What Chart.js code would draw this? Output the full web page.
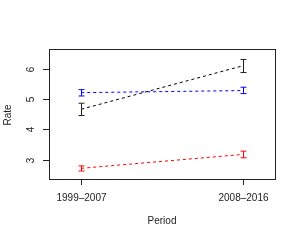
<!DOCTYPE html>
<html>
<head>
<meta charset="utf-8">
<script src="https://cdn.jsdelivr.net/npm/chart.js@4.4.0/dist/chart.umd.min.js"></script>
<style>
  html, body { margin: 0; padding: 0; background: #fff; }
  #wrap { width: 300px; height: 240px; }
</style>
</head>
<body>
<div id="wrap"><canvas id="rateChart" width="300" height="240"></canvas></div>
<script>
const categories = ["1999\u20132007", "2008\u20132016"];
const yTicks = [3, 4, 5, 6];

const blackMean = [4.67, 6.11];
const blackLow = [4.46, 5.89];
const blackHigh = [4.87, 6.32];

const blueMean = [5.22, 5.29];
const blueLow = [5.11, 5.19];
const blueHigh = [5.32, 5.40];

const redMean = [2.71, 3.17];
const redLow = [2.62, 3.06];
const redHigh = [2.79, 3.28];

const FONT = "10px 'Liberation Sans', Arial, sans-serif";
const INK = "#222";

function series(mean, low, high, color, barColor) {
    return {
        data: mean.map((v, i) => ({ x: i + 1, y: v })),
        low: low,
        high: high,
        barColor: barColor,
        borderColor: color,
        borderWidth: 1,
        borderDash: [3, 3],
        pointRadius: 0,
        fill: false,
        tension: 0,
    };
}

// R-like frame, ticks, labels and error bars
const rFrame = {
    id: "rFrame",
    afterDatasetsDraw(chart) {
        const c = chart.ctx;
        const a = chart.chartArea;
        const xs = chart.scales.x;
        const ys = chart.scales.y;
        c.save();

        // error bars
        chart.data.datasets.forEach(ds => {
            c.strokeStyle = ds.barColor;
            c.lineWidth = 1;
            ds.data.forEach((p, i) => {
                const px = Math.round(xs.getPixelForValue(p.x)) + 0.5;
                const lo = ys.getPixelForValue(ds.low[i]);
                const hi = ys.getPixelForValue(ds.high[i]);
                c.beginPath();
                c.moveTo(px, lo);
                c.lineTo(px, hi);
                c.moveTo(px - 3, hi);
                c.lineTo(px + 3, hi);
                c.moveTo(px - 3, lo);
                c.lineTo(px + 3, lo);
                c.stroke();
            });
        });

        // box
        c.strokeStyle = INK;
        c.lineWidth = 1;
        c.strokeRect(a.left + 0.5, a.top + 0.5, a.right - a.left, a.bottom - a.top);

        c.fillStyle = INK;
        c.font = FONT;

        // x ticks
        c.textAlign = "center";
        c.textBaseline = "middle";
        categories.forEach((lab, i) => {
            const px = Math.round(xs.getPixelForValue(i + 1)) + 0.5;
            c.beginPath();
            c.moveTo(px, a.bottom);
            c.lineTo(px, a.bottom + 6);
            c.stroke();
            c.fillText(lab, px, a.bottom + 19);
        });

        // y ticks (rotated labels like R)
        yTicks.forEach(t => {
            const py = Math.round(ys.getPixelForValue(t)) + 0.5;
            c.beginPath();
            c.moveTo(a.left - 6, py);
            c.lineTo(a.left, py);
            c.stroke();
            c.save();
            c.translate(a.left - 18, py);
            c.rotate(-Math.PI / 2);
            c.fillText(String(t), 0, 0);
            c.restore();
        });

        // axis titles
        c.fillText("Period", (a.left + a.right) / 2, 221.5);
        c.save();
        c.translate(8, 115);
        c.rotate(-Math.PI / 2);
        c.fillText("Rate", 0, 0);
        c.restore();

        c.restore();
    }
};

new Chart(document.getElementById("rateChart"), {
    type: "line",
    data: {
        datasets: [
            series(blackMean, blackLow, blackHigh, "#000", "#222"),
            series(blueMean, blueLow, blueHigh, "#0000ff", "#0000ff"),
            series(redMean, redLow, redHigh, "#ff0000", "#ff0000"),
        ],
    },
    options: {
        responsive: false,
        animation: false,
        events: [],
        layout: {
            padding: { left: 49, top: 49, right: 25, bottom: 61 },
        },
        scales: {
            x: { type: "linear", display: false, min: 0.8, max: 2.2 },
            y: { type: "linear", display: false, min: 2.355, max: 6.669 },
        },
        plugins: {
            legend: { display: false },
            tooltip: { enabled: false },
        },
    },
    plugins: [rFrame],
});
</script>
</body>
</html>
